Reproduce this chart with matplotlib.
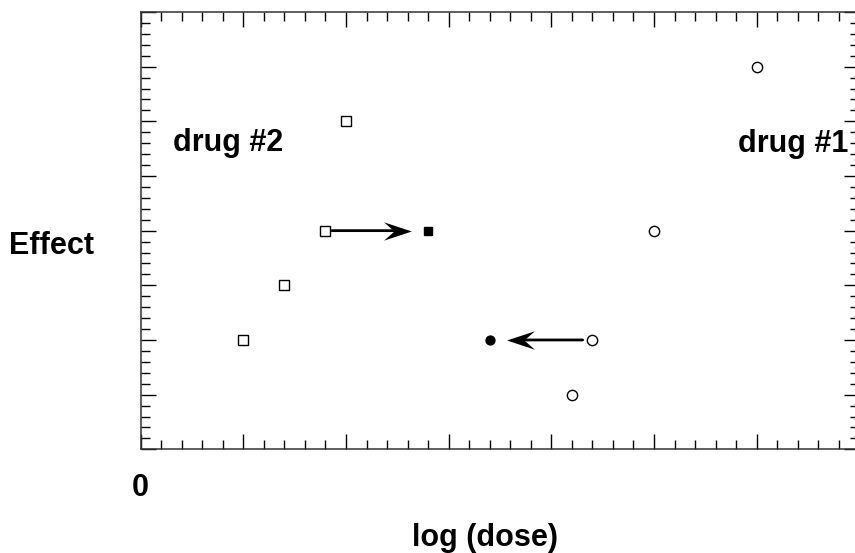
import numpy as np
import matplotlib
matplotlib.use("Agg")
import matplotlib.pyplot as plt
from matplotlib.path import Path

plt.rcParams['font.family'] = ['Liberation Sans', 'DejaVu Sans']

# drug #2 dose-response (open squares) and #1 (open circles)
drug2_dose = [1.0, 1.4, 1.8, 2.0]
drug2_effect = [2, 3, 4, 6]
drug1_dose = [4.2, 4.4, 5.0, 6.0]
drug1_effect = [1, 2, 4, 7]

# equivalent doses after the shift (filled symbols)
drug2_shift = (2.8, 4)
drug1_shift = (3.4, 2)


def head_marker(gap, length=20, half=6.6, notch=7.5, sign=1):
    # barbed arrow head drawn as a marker centred on the target point;
    # vertices in points, tip sits `gap` points before the centre
    tip = -sign * gap
    back = tip - sign * length
    mid = tip - sign * (length - notch)
    verts = [(tip, 0), (back, half), (mid, 0), (back, -half), (tip, 0)]
    size = 2 * max(abs(v) for p in verts for v in p)
    codes = [Path.MOVETO, Path.LINETO, Path.LINETO, Path.LINETO, Path.CLOSEPOLY]
    return Path(verts, codes), size, abs(mid)


fig = plt.figure(figsize=(8.55, 5.53), dpi=100)
ax = fig.add_axes([140.7/855, 1 - 449.3/553, (859.3 - 140.7)/855, (449.3 - 12)/553])

ax.set_xlim(0, 7)
ax.set_ylim(0, 8)

ax.plot(drug2_dose, drug2_effect, 's', ms=7.6, mfc='white', mec='black', mew=1.0, ls='none')
ax.plot(drug1_dose, drug1_effect, 'o', ms=7.4, mfc='white', mec='black', mew=1.0, ls='none')
ax.plot(*drug2_shift, 's', ms=5.2, color='black')
ax.plot(*drug1_shift, 'o', ms=6.4, color='black')

# arrows: shaft + barbed head
for start, end, shrink_a, gap, sign in [
        ((drug2_dose[2], drug2_effect[2]), drug2_shift, 4.7, 12, 1),
        ((drug1_dose[1], drug1_effect[1]), drug1_shift, 7, 11.9, -1)]:
    path, size, notch_at = head_marker(gap, sign=sign)
    ax.annotate('', xy=end, xytext=start,
                arrowprops=dict(arrowstyle='-', lw=2, color='black',
                                shrinkA=shrink_a, shrinkB=notch_at - 1))
    ax.plot(*end, marker=path, ms=size, color='black', mew=0, ls='none')

ax.text(0.315, (449.3 - 151)/54.66, 'drug #2', fontsize=22, fontweight='bold', va='baseline')
ax.text(6.893, (449.3 - 152)/54.66, 'drug #1', fontsize=22, fontweight='bold',
        va='baseline', ha='right')

ax.set_xticks(np.arange(0, 8))
ax.set_xticks(np.arange(0, 7.01, 0.2), minor=True)
ax.set_yticks(np.arange(0, 9))
ax.set_yticks(np.arange(0, 8.01, 0.2), minor=True)
ax.set_xticklabels(['0'] + [''] * 7, fontsize=22, fontweight='bold')
ax.set_yticklabels([])
ax.tick_params(which='both', direction='in', top=True, right=True, width=1, color='black')
ax.tick_params(which='major', length=10.5)
ax.tick_params(which='minor', length=6.3)
ax.tick_params(axis='x', which='major', pad=17)

for s in ax.spines.values():
    s.set_linewidth(1.1)
    s.set_color('#333333')

ax.set_xlabel('log (dose)', fontsize=22, fontweight='bold')
ax.xaxis.set_label_coords((485 - 140.7)/718.6, (449.3 - 538)/437.3)
ax.xaxis.label.set_va('center')
ax.set_ylabel('Effect', fontsize=22, fontweight='bold', rotation=0)
ax.yaxis.set_label_coords((51.5 - 140.7)/718.6, (449.3 - 246)/437.3)
ax.yaxis.label.set_va('center')
ax.yaxis.label.set_ha('center')

fig.savefig('out.png', dpi=100)
